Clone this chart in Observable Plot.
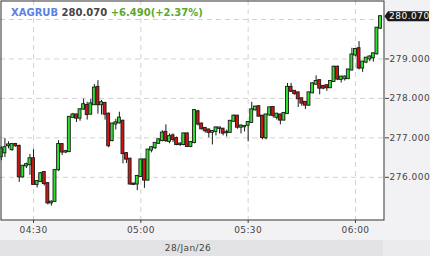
<!DOCTYPE html>
<html>
<head>
<meta charset="utf-8">
<script src="https://cdn.jsdelivr.net/npm/d3@7"></script>
<script src="https://cdn.jsdelivr.net/npm/@observablehq/plot@0.6"></script>
<style>
  html, body { margin: 0; padding: 0; background: #f2f2f4; }
  #chart svg { display: block; }
</style>
</head>
<body>
<div id="chart"></div>
<script>
// ---- data ----
const times = ["04:21","04:22","04:23","04:24","04:25","04:26","04:27","04:28","04:29","04:30",
"04:31","04:32","04:33","04:34","04:35","04:36","04:37","04:38","04:39","04:40",
"04:41","04:42","04:43","04:44","04:45","04:46","04:47","04:48","04:49","04:50",
"04:51","04:52","04:53","04:54","04:55","04:56","04:57","04:58","04:59","05:00",
"05:01","05:02","05:03","05:04","05:05","05:06","05:07","05:08","05:09","05:10",
"05:11","05:12","05:13","05:14","05:15","05:16","05:17","05:18","05:19","05:20",
"05:21","05:22","05:23","05:24","05:25","05:26","05:27","05:28","05:29","05:30",
"05:31","05:32","05:33","05:34","05:35","05:36","05:37","05:38","05:39","05:40",
"05:41","05:42","05:43","05:44","05:45","05:46","05:47","05:48","05:49","05:50",
"05:51","05:52","05:53","05:54","05:55","05:56","05:57","05:58","05:59","06:00",
"06:01","06:02","06:03","06:04","06:05","06:06","06:07"];
const opens = [276.52,276.62,276.80,276.70,276.83,276.78,276.01,276.29,276.32,276.47,
275.82,275.89,276.12,275.84,275.35,275.39,276.19,276.83,276.64,276.65,
277.52,277.58,277.50,277.73,277.82,277.60,277.84,278.28,277.84,277.87,
277.60,276.93,277.35,277.38,277.42,276.60,276.46,275.83,275.83,276.02,
276.44,275.93,276.69,276.75,276.86,276.93,277.14,276.91,277.05,276.98,
276.83,276.83,277.10,276.78,276.88,277.66,277.35,277.24,277.20,277.14,
277.16,277.24,277.22,277.13,277.14,277.42,277.55,277.27,277.28,277.32,
277.39,277.71,277.79,277.55,277.00,277.58,277.77,277.52,277.58,277.45,
277.62,278.28,278.18,278.14,277.99,277.90,277.83,278.14,278.36,278.45,
278.30,278.32,278.27,278.43,278.79,278.48,278.50,278.50,278.72,279.10,
279.26,278.77,278.92,279.00,279.03,279.13,279.78];
const highs = [276.78,276.98,276.90,276.85,276.86,276.82,276.30,276.36,276.58,276.70,
275.92,276.12,276.15,275.86,275.40,276.20,276.93,276.85,276.68,277.54,
277.62,277.60,277.74,277.98,277.90,277.97,278.35,278.45,277.95,277.90,
277.63,277.37,277.47,277.65,277.45,276.62,276.48,275.85,276.05,276.46,
276.46,276.71,276.77,276.88,276.98,277.18,277.33,277.10,277.10,277.02,
276.88,277.12,277.12,276.90,277.72,277.70,277.37,277.26,277.22,277.18,
277.28,277.27,277.24,277.20,277.44,277.58,277.57,277.33,277.31,277.41,
277.90,277.80,277.81,277.57,277.60,277.78,277.79,277.62,277.60,277.64,
278.38,278.38,278.20,278.16,278.01,277.92,278.16,278.39,278.57,278.47,
278.33,278.35,278.45,278.82,278.82,278.56,278.57,278.74,279.27,279.26,
279.44,278.94,279.04,279.08,279.15,279.80,280.10];
const lows = [276.42,276.50,276.72,276.66,276.76,275.87,275.98,276.22,276.05,275.80,
275.73,275.87,275.78,275.30,275.27,275.36,276.15,276.55,276.60,276.63,
277.50,277.39,277.42,277.70,277.45,277.58,277.82,277.60,277.58,277.45,
276.75,276.90,277.20,277.35,276.34,276.35,275.80,275.80,275.66,276.00,
275.72,275.90,276.62,276.70,276.84,276.90,276.88,276.85,276.88,276.80,
276.78,276.80,276.76,276.75,276.85,277.30,277.20,277.12,277.00,276.82,
277.05,277.10,277.05,277.02,277.12,277.40,277.22,277.10,277.15,276.90,
277.37,277.68,277.53,276.95,276.95,277.55,277.50,277.45,277.33,277.43,
277.60,278.15,278.08,277.77,277.80,277.72,277.80,278.12,278.34,278.09,
278.22,278.18,278.25,278.41,278.45,278.39,278.44,278.48,278.70,279.05,
278.72,278.66,278.88,278.93,278.92,279.10,279.75];
const closes = [276.72,276.75,276.82,276.83,276.80,276.01,276.28,276.32,276.47,275.82,
275.89,276.09,275.84,275.35,275.37,276.17,276.83,276.64,276.65,277.52,
277.58,277.50,277.71,277.84,277.59,277.86,278.26,277.84,277.89,277.60,
276.80,277.35,277.38,277.50,276.60,276.46,275.83,275.82,276.02,276.44,
275.93,276.69,276.75,276.86,276.95,277.12,276.93,277.03,276.96,276.83,
276.84,277.10,276.78,276.88,277.69,277.35,277.23,277.18,277.14,277.16,
277.25,277.25,277.12,277.14,277.42,277.55,277.27,277.30,277.29,277.39,
277.71,277.78,277.55,277.01,277.58,277.76,277.57,277.60,277.45,277.62,
278.28,278.18,278.12,277.99,277.88,277.83,278.14,278.37,278.43,278.26,
278.26,278.27,278.43,278.79,278.49,278.54,278.54,278.72,279.10,279.24,
278.77,278.92,279.02,279.05,279.13,279.78,280.07];

const priceTicks = [276, 277, 278, 279];
const priceGrid = [276, 277, 278, 279, 280];
const timeTicks = ["04:30", "05:00", "05:30", "06:00"];
const dateLabel = "28/Jan/26";
const symbol = "XAGRUB";
const lastPriceText = "280.070";
const changeText = "+6.490(+2.37%)";

// ---- build ----
const toDate = s => new Date(Date.UTC(2026, 0, 28, +s.slice(0, 2), +s.slice(3, 5)));
const data = times.map((t, i) => ({t: toDate(t), o: opens[i], h: highs[i], l: lows[i], c: closes[i]}));
const tickDates = timeTicks.map(toDate);
const MIN = 60000;
const half = 0.41 * MIN;
const green = "#30e030", red = "#d41414", ink = "#1a1a1a";

const chart = Plot.plot({
  width: 430,
  height: 256,
  marginLeft: 0,
  marginRight: 46,
  marginTop: 0,
  marginBottom: 36,
  style: {background: "#f2f2f4", fontFamily: "'DejaVu Sans', sans-serif", fontSize: "9px", color: "#444"},
  x: {type: "utc", domain: [new Date(+toDate("04:30") - 9.236 * MIN), new Date(+toDate("06:00") + 8.116 * MIN)]},
  y: {domain: [274.905, 280.4816]},
  marks: [
    Plot.frame({fill: "white"}),
    Plot.gridY(priceGrid, {stroke: "#d2d2d2", strokeOpacity: 1, strokeDasharray: "5,4"}),
    Plot.gridX(tickDates, {stroke: "#d2d2d2", strokeOpacity: 1, strokeDasharray: "5,4"}),
    Plot.ruleX(data, {x: "t", y1: "l", y2: "h", stroke: ink, strokeWidth: 1}),
    Plot.rect(data, {
      x1: d => new Date(+d.t - half), x2: d => new Date(+d.t + half),
      y1: d => Math.min(d.o, d.c), y2: d => Math.max(d.o, d.c),
      insetTop: -0.5, insetBottom: -0.5,
      fill: d => d.c >= d.o ? green : red, stroke: ink, strokeWidth: 0.9
    }),
    Plot.axisY(priceTicks, {anchor: "right", tickFormat: d => d.toFixed(3), tickSize: 4, tickPadding: 1, color: "#444", label: null}),
    Plot.axisX(tickDates, {anchor: "bottom", tickFormat: d3.utcFormat("%H:%M"), tickSize: 3, tickPadding: 3, color: "#444", label: null}),
    Plot.frame({stroke: "#333", inset: 0.5})
  ]
});

const svg = d3.select(chart);
svg.selectAll('g[aria-label="y-axis tick label"] text').style("letter-spacing", "0.5px");
svg.selectAll('g[aria-label="x-axis tick label"] text').style("letter-spacing", "0.4px");

// date band below the time axis
const xr = chart.scale("x").range;
svg.append("rect").attr("x", xr[0]).attr("y", 240).attr("width", xr[1] - 1).attr("height", 16).attr("fill", "#e3e3e5");
svg.append("rect").attr("x", xr[1] - 1).attr("y", 240).attr("width", 430 - xr[1] + 1).attr("height", 16).attr("fill", "#ebebed");
svg.append("text").attr("x", (xr[0] + xr[1]) / 2 - 4).attr("y", 250.5)
  .attr("text-anchor", "middle").attr("fill", "#444").style("font-size", "9px").style("letter-spacing", "0.4px")
  .text(dateLabel);

// title
const title = svg.append("text").attr("x", 11).attr("y", 16).attr("text-anchor", "start")
  .style("font-family", "'DejaVu Sans', sans-serif").style("font-size", "10px").style("font-weight", "bold");
title.append("tspan").attr("fill", "#5b82e3").text(symbol + " ");
title.append("tspan").attr("fill", "#444").text(lastPriceText + " ");
title.append("tspan").attr("fill", "#5ca82f").text(changeText);

// last price marker on the right axis
const yLast = chart.scale("y").apply(closes[closes.length - 1]);
const x0 = xr[1];
svg.append("path")
  .attr("d", `M${x0 + 0.5},${yLast} L${x0 + 4},${yLast - 5} L${x0 + 45},${yLast - 5} L${x0 + 45},${yLast + 5} L${x0 + 4},${yLast + 5} Z`)
  .attr("fill", "#1b1b1b");
svg.append("text").attr("x", x0 + 5).attr("y", yLast).attr("dy", "0.35em").attr("text-anchor", "start")
  .attr("fill", "white").style("font-size", "9px").style("letter-spacing", "0.5px")
  .text(lastPriceText);

document.getElementById("chart").appendChild(chart);
</script>
</body>
</html>
